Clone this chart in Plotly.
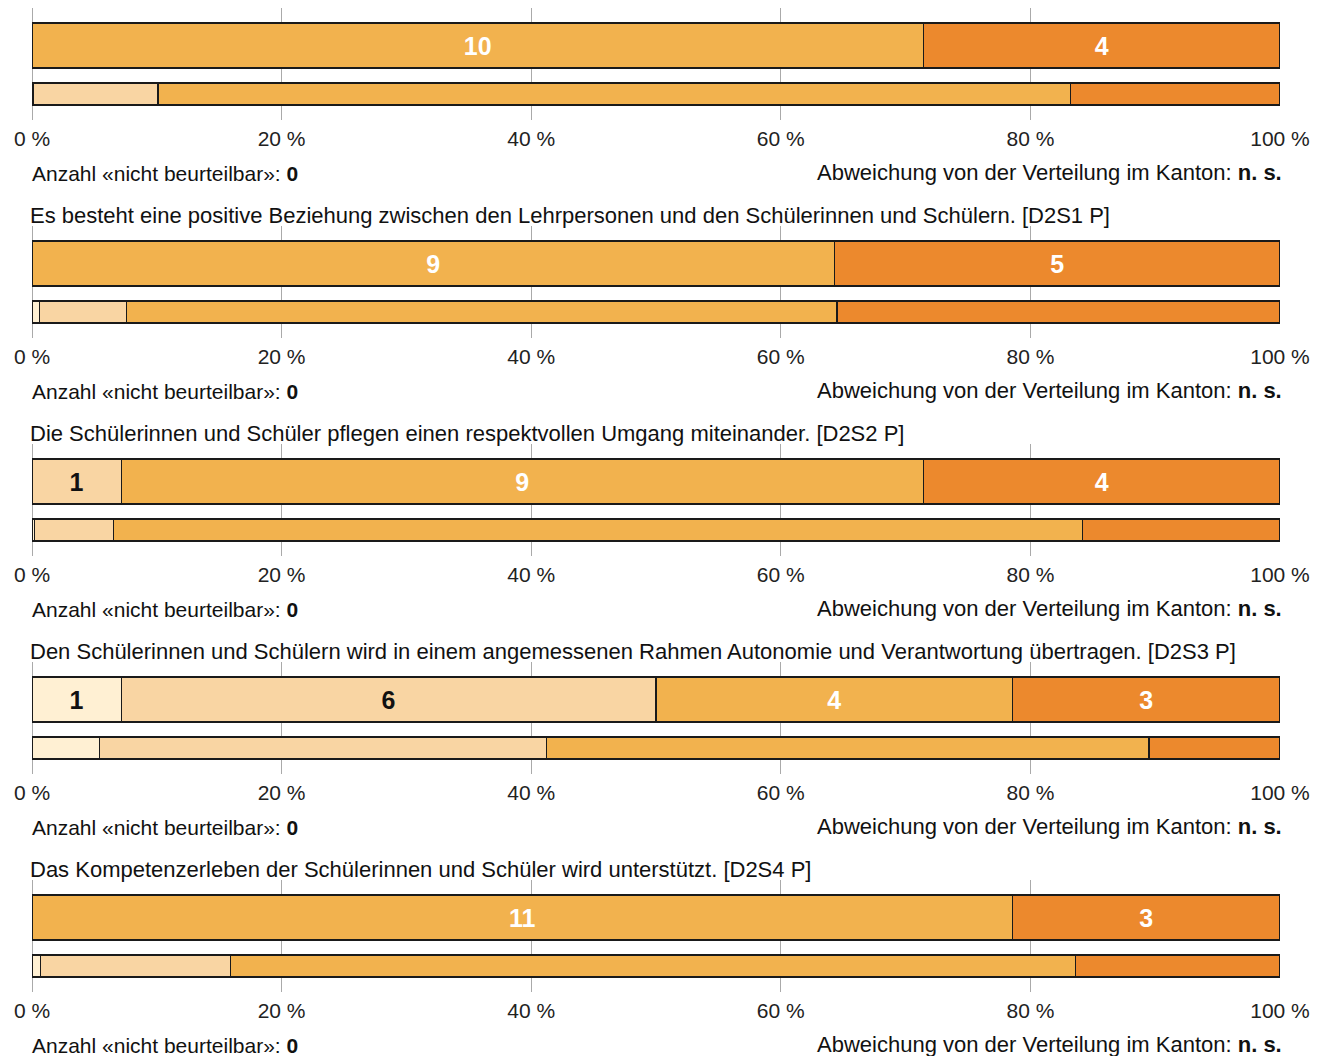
import plotly.graph_objects as go

# Response categories (left to right) and their colours
categories = ["trifft nicht zu", "trifft eher nicht zu", "trifft eher zu", "trifft zu"]
colors = ["#FFF0D3", "#F9D5A3", "#F2B24E", "#EC892D"]
label_colors = ["#111111", "#111111", "#FFFFFF", "#FFFFFF"]

# Item titles (the first panel's title lies above the visible area)
titles = [
    None,
    "Es besteht eine positive Beziehung zwischen den Lehrpersonen und den Schülerinnen und Schülern. [D2S1 P]",
    "Die Schülerinnen und Schüler pflegen einen respektvollen Umgang miteinander. [D2S2 P]",
    "Den Schülerinnen und Schülern wird in einem angemessenen Rahmen Autonomie und Verantwortung übertragen. [D2S3 P]",
    "Das Kompetenzerleben der Schülerinnen und Schüler wird unterstützt. [D2S4 P]",
]

# Counts of answers per category (school)
counts = [
    [0, 0, 10, 4],
    [0, 0, 9, 5],
    [0, 1, 9, 4],
    [1, 6, 4, 3],
    [0, 0, 11, 3],
]

# Distribution in the canton, in percent
canton_pct = [
    [0.1, 10.0, 73.1, 16.8],
    [0.6, 7.0, 56.9, 35.5],
    [0.2, 6.3, 77.7, 15.8],
    [5.4, 35.8, 48.3, 10.5],
    [0.7, 15.2, 67.7, 16.4],
]

not_assessable = [0, 0, 0, 0, 0]
deviation = ["n. s.", "n. s.", "n. s.", "n. s.", "n. s."]

tick_vals = [0, 20, 40, 60, 80, 100]
tick_text = ["0 %", "20 %", "40 %", "60 %", "80 %", "100 %"]

W, H = 1329, 1056
X0, X1 = 32, 1280
PANEL_STEP = 218
PLOT_TOP, PLOT_BOTTOM = 8, 120
FONT = "Liberation Sans, Arial, Helvetica, sans-serif"

fig = go.Figure()
layout_axes = {}

for k in range(len(counts)):
    ax = "" if k == 0 else str(k + 1)
    total = sum(counts[k])
    for i, cat in enumerate(categories):
        c = counts[k][i]
        # school bar (counts, as share of all answers)
        fig.add_trace(go.Bar(
            x=[c / total * 100], y=[74.5], width=[45], orientation="h",
            marker=dict(color=colors[i], line=dict(color="#1a1a1a", width=1.2)),
            text=[str(c) if c > 0 else ""], textposition="inside",
            insidetextanchor="middle", textangle=0, constraintext="none",
            textfont=dict(family=FONT, size=25, color=label_colors[i], weight="bold"),
            name=cat, showlegend=False, hoverinfo="skip",
            xaxis="x" + ax, yaxis="y" + ax,
        ))
        # canton bar (percent)
        fig.add_trace(go.Bar(
            x=[canton_pct[k][i]], y=[26], width=[22], orientation="h",
            marker=dict(color=colors[i], line=dict(color="#1a1a1a", width=1.2)),
            name=cat, showlegend=False, hoverinfo="skip",
            xaxis="x" + ax, yaxis="y" + ax,
        ))

    top = PLOT_TOP + PANEL_STEP * k
    bottom = PLOT_BOTTOM + PANEL_STEP * k
    layout_axes["xaxis" + ax] = dict(
        domain=[X0 / W, X1 / W], range=[0, 100], anchor="y" + ax,
        tickvals=tick_vals, ticktext=tick_text, showgrid=True,
        gridcolor="#AAAAAA", gridwidth=1, zeroline=True, zerolinecolor="#AAAAAA",
        zerolinewidth=1, showline=False, ticks="", fixedrange=True,
        automargin=False, ticklabelstandoff=4,
        tickfont=dict(family=FONT, size=21, color="#222222"),
    )
    layout_axes["yaxis" + ax] = dict(
        domain=[1 - bottom / H, 1 - top / H], range=[0, 112], anchor="x" + ax,
        showgrid=False, zeroline=False, showticklabels=False, fixedrange=True,
        automargin=False,
    )

annotations = []
for k in range(len(counts)):
    base = PANEL_STEP * k
    annotations.append(dict(
        x=30 / W, y=1 - (173.5 + base) / H, xref="paper", yref="paper",
        xanchor="left", yanchor="middle", showarrow=False,
        text="Anzahl «nicht beurteilbar»: <b>%d</b>" % not_assessable[k],
        font=dict(family=FONT, size=21, color="#111111"),
    ))
    annotations.append(dict(
        x=1284 / W, y=1 - (172.5 + base) / H, xref="paper", yref="paper",
        xanchor="right", yanchor="middle", showarrow=False,
        text="Abweichung von der Verteilung im Kanton: <b>%s</b>" % deviation[k],
        font=dict(family=FONT, size=22, color="#111111"),
    ))
    if titles[k]:
        annotations.append(dict(
            x=28 / W, y=1 - (215 + base - PANEL_STEP) / H, xref="paper", yref="paper",
            xanchor="left", yanchor="middle", showarrow=False,
            text=titles[k],
            font=dict(family=FONT, size=22, color="#111111"),
        ))

fig.update_layout(
    width=W, height=H, margin=dict(l=0, r=0, t=0, b=0),
    paper_bgcolor="white", plot_bgcolor="white",
    barmode="stack", showlegend=False,
    annotations=annotations,
    **layout_axes,
)

fig.write_html("out.html")
